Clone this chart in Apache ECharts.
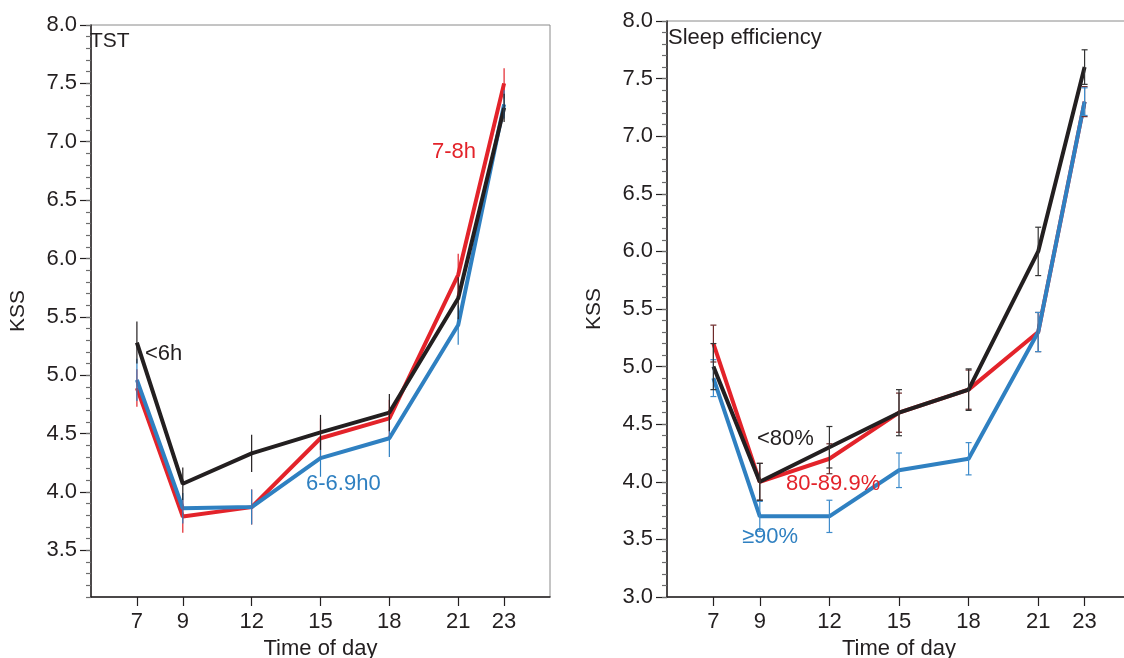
<!DOCTYPE html>
<html>
<head>
<meta charset="utf-8">
<script src="https://cdn.jsdelivr.net/npm/echarts@6/dist/echarts.min.js"></script>
<style>
  html, body { margin: 0; padding: 0; background: #fff; }
  #kss { width: 1124px; height: 658px; }
</style>
</head>
<body>
<div id="kss"></div>
<script>
// time of day (x)
const hours = [7, 9, 12, 15, 18, 21, 23];
const xTicks = [7, 9, 12, 15, 18, 21, 23];

// left panel: total sleep time
const tstShort = [5.28, 4.07, 4.33, 4.51, 4.68, 5.66, 7.29];     // <6h
const tstShortErr = [0.18, 0.14, 0.16, 0.15, 0.16, 0.18, 0.12];
const tstMid = [4.96, 3.86, 3.87, 4.29, 4.46, 5.43, 7.32];       // 6-6.9h
const tstMidErr = [0.18, 0.13, 0.15, 0.16, 0.16, 0.17, 0.12];
const tstLong = [4.89, 3.79, 3.87, 4.46, 4.63, 5.86, 7.50];      // 7-8h
const tstLongErr = [0.16, 0.14, 0.15, 0.17, 0.16, 0.18, 0.13];

// right panel: sleep efficiency
const seLow = [5.0, 4.0, 4.3, 4.6, 4.8, 6.0, 7.6];               // <80%
const seLowErr = [0.2, 0.16, 0.18, 0.2, 0.18, 0.21, 0.15];
const seMid = [5.2, 4.0, 4.2, 4.6, 4.8, 5.3, 7.3];               // 80-89.9%
const seMidErr = [0.16, 0.16, 0.13, 0.17, 0.17, 0.17, 0.13];
const seHigh = [4.9, 3.7, 3.7, 4.1, 4.2, 5.3, 7.3];              // >=90%
const seHighErr = [0.16, 0.13, 0.14, 0.15, 0.14, 0.17, 0.12];

// y tick labels
const leftYLabels = [3.5, 4.0, 4.5, 5.0, 5.5, 6.0, 6.5, 7.0, 7.5, 8.0];
const rightYLabels = [3.0, 3.5, 4.0, 4.5, 5.0, 5.5, 6.0, 6.5, 7.0, 7.5, 8.0];

const BLACK = '#231f20';
const RED = '#e3232a';
const BLUE = '#2f80c1';
const FONT = '"Liberation Sans", Arial, Helvetica, sans-serif';

function minorTicks(from, to) {
  const out = [];
  for (let i = Math.round(from * 10); i <= Math.round(to * 10); i++) out.push(i / 10);
  return out;
}

function pairs(vals) {
  return hours.map((h, i) => [h, vals[i]]);
}

function errData(vals, errs) {
  return hours.map((h, i) => [h, vals[i] - errs[i], vals[i] + errs[i]]);
}

function lineSeries(grid, vals, color, label, at) {
  return {
    type: 'line',
    xAxisIndex: grid,
    yAxisIndex: grid * 2,
    data: pairs(vals),
    symbol: 'none',
    lineStyle: { color: color, width: 4 },
    itemStyle: { color: color },
    z: 3,
    markPoint: {
      symbol: 'circle',
      symbolSize: 0,
      silent: true,
      data: [{
        coord: at,
        label: {
          show: true,
          formatter: label,
          position: 'right',
          distance: 0,
          color: color,
          fontSize: 22,
          fontFamily: FONT
        }
      }]
    }
  };
}

function errSeries(grid, vals, errs, color, cap) {
  return {
    type: 'custom',
    xAxisIndex: grid,
    yAxisIndex: grid * 2,
    data: errData(vals, errs),
    z: 5,
    silent: true,
    renderItem: function (params, api) {
      const lo = api.coord([api.value(0), api.value(1)]);
      const hi = api.coord([api.value(0), api.value(2)]);
      const style = { stroke: color, lineWidth: 1.2 };
      const children = [{ type: 'line', shape: { x1: lo[0], y1: lo[1], x2: hi[0], y2: hi[1] }, style: style }];
      if (cap) {
        children.push({ type: 'line', shape: { x1: lo[0] - cap, y1: lo[1], x2: lo[0] + cap, y2: lo[1] }, style: style });
        children.push({ type: 'line', shape: { x1: hi[0] - cap, y1: hi[1], x2: hi[0] + cap, y2: hi[1] }, style: style });
      }
      return { type: 'group', children: children };
    }
  };
}

function xAxisFor(grid) {
  return {
    gridIndex: grid,
    type: 'value',
    min: 5,
    max: 25,
    axisLine: { show: true, lineStyle: { color: BLACK, width: 1.5 } },
    axisTick: { show: true, customValues: xTicks, length: 9, lineStyle: { color: BLACK, width: 1.2 } },
    axisLabel: { customValues: xTicks, fontSize: 22, color: BLACK, fontFamily: FONT, margin: 14 },
    splitLine: { show: false },
    name: 'Time of day',
    nameLocation: 'middle',
    nameGap: 40,
    nameTextStyle: { fontSize: 22, color: BLACK, fontFamily: FONT }
  };
}

function yAxesFor(grid, min, labels) {
  return [{
    gridIndex: grid,
    type: 'value',
    position: 'left',
    min: min,
    max: 8,
    axisLine: { show: true, lineStyle: { color: BLACK, width: 1.5 } },
    axisTick: { show: true, customValues: labels, length: 11, lineStyle: { color: BLACK, width: 1.2 } },
    axisLabel: {
      customValues: labels,
      fontSize: 22,
      color: BLACK,
      fontFamily: FONT,
      margin: 14,
      formatter: v => v.toFixed(1)
    },
    splitLine: { show: false },
    name: 'KSS',
    nameLocation: 'middle',
    nameGap: 62,
    nameTextStyle: { fontSize: 21, color: BLACK, fontFamily: FONT }
  }, {
    gridIndex: grid,
    type: 'value',
    position: 'left',
    offset: 0,
    min: min,
    max: 8,
    axisLine: { show: false },
    axisTick: { show: true, customValues: minorTicks(min, 8), length: 5, lineStyle: { color: '#6d6d6d', width: 1.2 } },
    axisLabel: { show: false },
    splitLine: { show: false }
  }];
}

const chart = echarts.init(document.getElementById('kss'));
chart.setOption({
  animation: false,
  backgroundColor: '#fff',
  title: [
    { text: 'TST', left: 90, top: 31, padding: 0, textStyle: { fontSize: 21, fontWeight: 'normal', color: BLACK, fontFamily: FONT } },
    { text: 'Sleep efficiency', left: 668, top: 27, padding: 0, textStyle: { fontSize: 22, fontWeight: 'normal', color: BLACK, fontFamily: FONT } }
  ],
  grid: [
    { left: 91, top: 25, width: 459, height: 572, outerBoundsMode: 'none', show: true, borderColor: '#8a8a8a', borderWidth: 1 },
    { left: 667, top: 21, width: 464, height: 576, outerBoundsMode: 'none', show: true, borderColor: '#8a8a8a', borderWidth: 1 }
  ],
  xAxis: [xAxisFor(0), xAxisFor(1)],
  yAxis: yAxesFor(0, 3.1, leftYLabels).concat(yAxesFor(1, 3.0, rightYLabels)),
  series: [
    lineSeries(0, tstLong, RED, '7-8h', [19.86, 6.91]),
    lineSeries(0, tstMid, BLUE, '6-6.9h0', [14.37, 4.07]),
    lineSeries(0, tstShort, BLACK, '<6h', [7.35, 5.18]),
    errSeries(0, tstLong, tstLongErr, RED, 0),
    errSeries(0, tstMid, tstMidErr, BLUE, 0),
    errSeries(0, tstShort, tstShortErr, BLACK, 0),

    lineSeries(1, seMid, RED, '80-89.9%', [10.13, 3.98]),
    lineSeries(1, seHigh, BLUE, '≥90%', [8.23, 3.52]),
    lineSeries(1, seLow, BLACK, '<80%', [8.88, 4.37]),
    errSeries(1, seMid, seMidErr, '#6e2a2a', 3),
    errSeries(1, seHigh, seHighErr, '#3f8ccb', 3),
    errSeries(1, seLow, seLowErr, '#333333', 3)
  ]
});
</script>
</body>
</html>
